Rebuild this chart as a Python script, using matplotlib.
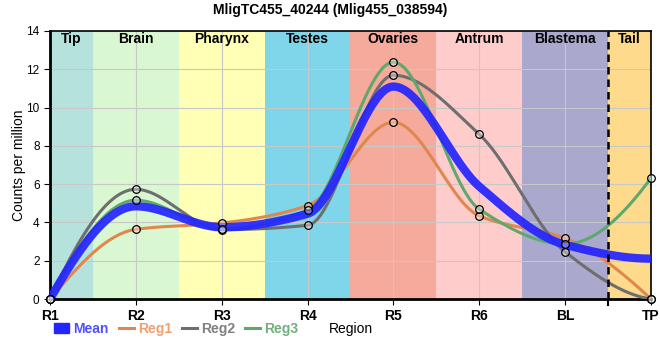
import numpy as np
import matplotlib
matplotlib.use("Agg")
import matplotlib.pyplot as plt
from matplotlib import font_manager
from matplotlib.lines import Line2D
from matplotlib.patches import Patch

# data
regions = ["R1", "R2", "R3", "R4", "R5", "R6", "BL", "TP"]
reg1 = [0.0, 3.64, 3.97, 4.88, 9.23, 4.34, 3.17, 0.0]
reg2 = [0.0, 5.73, 3.62, 3.85, 11.69, 8.6, 2.46, 0.0]
reg3 = [0.0, 5.16, 3.66, 4.63, 12.37, 4.69, 2.87, 6.32]

tissues = ["Tip", "Brain", "Pharynx", "Testes", "Ovaries", "Antrum", "Blastema", "Tail"]
tissue_edges = [0, 0.5, 1.5, 2.5, 3.5, 4.5, 5.5, 6.5, 7]
tissue_colors = ["#b5e2dd", "#d9f7d0", "#ffffb5", "#7fd5ea",
                 "#f5aa9c", "#ffcccc", "#aaa8cc", "#fdda8c"]

# font
names = {f.name for f in font_manager.fontManager.ttflist}
fam = "Liberation Sans Narrow" if "Liberation Sans Narrow" in names else "Liberation Sans"
plt.rcParams["font.family"] = [fam, "DejaVu Sans"]


def pchip(x, y, xs):
    x = np.asarray(x, float)
    y = np.asarray(y, float)
    h = np.diff(x)
    d = np.diff(y) / h
    n = len(x)
    m = np.zeros(n)
    for k in range(1, n - 1):
        if d[k - 1] * d[k] <= 0:
            m[k] = 0
        else:
            w1 = 2 * h[k] + h[k - 1]
            w2 = h[k] + 2 * h[k - 1]
            m[k] = (w1 + w2) / (w1 / d[k - 1] + w2 / d[k])

    def end(h0, h1, d0, d1):
        s = ((2 * h0 + h1) * d0 - h0 * d1) / (h0 + h1)
        if np.sign(s) != np.sign(d0):
            return 0.0
        if np.sign(d0) != np.sign(d1) and abs(s) > abs(3 * d0):
            return 3 * d0
        return s

    m[0] = end(h[0], h[1], d[0], d[1])
    m[-1] = end(h[-1], h[-2], d[-1], d[-2])
    idx = np.clip(np.searchsorted(x, xs) - 1, 0, n - 2)
    t = (xs - x[idx]) / h[idx]
    h00 = 2 * t**3 - 3 * t**2 + 1
    h10 = t**3 - 2 * t**2 + t
    h01 = -2 * t**3 + 3 * t**2
    h11 = t**3 - t**2
    return h00 * y[idx] + h10 * h[idx] * m[idx] + h01 * y[idx + 1] + h11 * h[idx] * m[idx + 1]


x = np.arange(len(regions))
xs = np.linspace(0, len(regions) - 1, 600)
mean = np.mean([reg1, reg2, reg3], axis=0)

fig = plt.figure(figsize=(6.6, 3.6), dpi=100)
ax = fig.add_axes([50 / 660, 61 / 360, 601 / 660, 268 / 360])

for i, name in enumerate(tissues):
    ax.axvspan(tissue_edges[i], tissue_edges[i + 1], color=tissue_colors[i], zorder=0, lw=0)
    ax.text((tissue_edges[i] + tissue_edges[i + 1]) / 2, 13.6, name, ha="center", va="center",
            fontsize=10, fontweight="bold", zorder=6)

ax.grid(True, color="#c8c8c8", lw=0.8, zorder=1)
ax.set_axisbelow(True)
for gl in ax.get_xgridlines() + ax.get_ygridlines():
    gl.set_zorder(1)

ax.axvline(6.5, color="black", ls=(0, (3, 2)), lw=1.8, zorder=5)

series = [(reg1, "#e0874e", "Reg1"), (reg2, "#6e6e6e", "Reg2"), (reg3, "#5fa86c", "Reg3")]
for vals, col, lab in series:
    ax.plot(xs, np.clip(pchip(x, vals, xs), 0, None), color=col, lw=2.2, zorder=3)
ax.plot(xs, np.clip(pchip(x, mean, xs), 0, None), color="#2424ff", lw=6, alpha=0.92,
        zorder=4, solid_capstyle="butt")
for vals, col, lab in series:
    ax.plot(x, vals, "o", ms=5.5, mfc=(1, 1, 1, 0.35), mec="black", mew=0.9, zorder=7,
            clip_on=False)

ax.set_xlim(0, 7)
ax.set_ylim(0, 14)
ax.set_xticks(x)
ax.set_xticklabels(regions, fontsize=10, fontweight="bold")
ax.set_yticks(np.arange(0, 15, 2))
ax.tick_params(axis="y", labelsize=8.5, length=4)
ax.tick_params(axis="x", length=4, pad=3)
ax.set_xticks([6.5], minor=True)
ax.tick_params(axis="x", which="minor", length=5, width=1.5)
ax.set_ylabel("Counts per million", fontsize=10)
ax.yaxis.set_label_coords(-24 / 601, 0.5)
ax.set_xlabel("Region", fontsize=10, va="center")
ax.xaxis.set_label_coords(0.5, -30 / 268)
for s in ["left", "bottom"]:
    ax.spines[s].set_linewidth(2)
for s in ["top", "right"]:
    ax.spines[s].set_linewidth(1.2)

handles = [Patch(color="#2424ff", label="Mean")] + \
    [Line2D([], [], color=c, lw=2.2, label=l) for _, c, l in series]
leg = fig.legend(handles=handles, loc="center left", bbox_to_anchor=(54 / 660, 1 - 329 / 360),
                 ncol=4, frameon=False, fontsize=10, handlelength=1.1, handletextpad=0.3,
                 columnspacing=0.7, borderaxespad=0, borderpad=0)
for txt, c in zip(leg.get_texts(), ["#5050ff", "#eda070", "#808080", "#70b07c"]):
    txt.set_color(c)
    txt.set_fontweight("bold")

fig.suptitle("MligTC455_40244 (Mlig455_038594)", y=1 - 10 / 360, va="center",
             fontsize=10, fontweight="bold")

fig.savefig("out.png", dpi=100)
